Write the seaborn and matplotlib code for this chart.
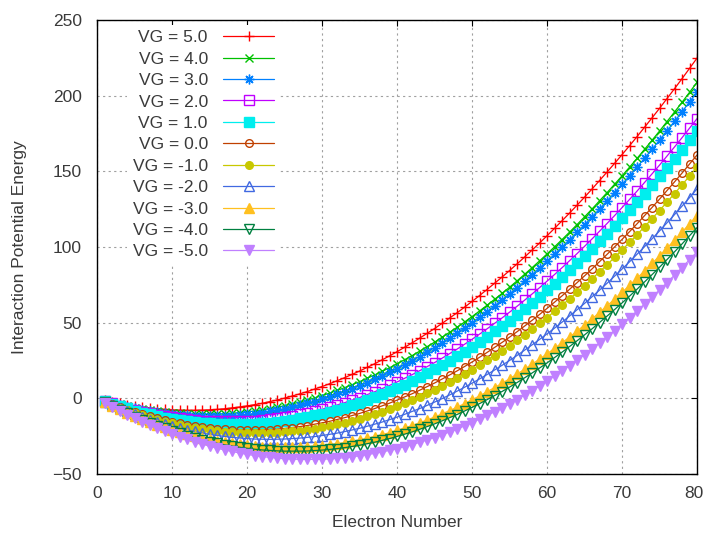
import matplotlib
matplotlib.use("Agg")
import matplotlib.pyplot as plt
import matplotlib.transforms as mtransforms
import pandas as pd
import seaborn as sns

# Electron number on the x axis (one point per electron)
electron_number = list(range(1, 81))

# Interaction potential energy for each gate voltage
vg_p5 = [
    -1.2, -2.3, -3.4, -4.3, -5.1, -5.8, -6.4, -6.9, -7.3, -7.6,
    -7.8, -7.9, -7.9, -7.8, -7.6, -7.3, -6.9, -6.3, -5.7, -5.0,
    -4.2, -3.3, -2.2, -1.1, 0.1, 1.5, 2.9, 4.4, 6.1, 7.8,
    9.6, 11.6, 13.6, 15.8, 18.0, 20.4, 22.8, 25.4, 28.0, 30.8,
    33.7, 36.6, 39.7, 42.9, 46.1, 49.5, 53.0, 56.5, 60.2, 64.0,
    67.9, 71.9, 76.0, 80.1, 84.4, 88.8, 93.3, 97.9, 102.6, 107.4,
    112.3, 117.3, 122.4, 127.6, 132.9, 138.3, 143.9, 149.5, 155.2, 161.0,
    166.9, 172.9, 179.1, 185.3, 191.6, 198.1, 204.6, 211.2, 218.0, 224.8]
vg_p4 = [
    -1.4, -2.7, -4.0, -5.1, -6.1, -7.0, -7.8, -8.5, -9.1, -9.6,
    -10.0, -10.3, -10.5, -10.6, -10.6, -10.5, -10.3, -9.9, -9.5, -9.0,
    -8.4, -7.7, -6.8, -5.9, -4.9, -3.7, -2.5, -1.2, 0.3, 1.8,
    3.4, 5.2, 7.0, 9.0, 11.0, 13.2, 15.4, 17.8, 20.2, 22.8,
    25.5, 28.2, 31.1, 34.1, 37.1, 40.3, 43.6, 46.9, 50.4, 54.0,
    57.7, 61.5, 65.4, 69.3, 73.4, 77.6, 81.9, 86.3, 90.8, 95.4,
    100.1, 104.9, 109.8, 114.8, 119.9, 125.1, 130.5, 135.9, 141.4, 147.0,
    152.7, 158.5, 164.5, 170.5, 176.6, 182.9, 189.2, 195.6, 202.2, 208.8]
vg_p3 = [
    -1.5, -2.9, -4.2, -5.4, -6.5, -7.5, -8.4, -9.1, -9.8, -10.4,
    -10.9, -11.3, -11.5, -11.7, -11.8, -11.7, -11.6, -11.4, -11.0, -10.6,
    -10.1, -9.4, -8.7, -7.8, -6.9, -5.8, -4.7, -3.4, -2.1, -0.6,
    1.0, 2.6, 4.4, 6.3, 8.2, 10.3, 12.5, 14.7, 17.1, 19.6,
    22.2, 24.9, 27.6, 30.5, 33.5, 36.6, 39.8, 43.1, 46.5, 50.0,
    53.6, 57.3, 61.1, 65.0, 69.0, 73.1, 77.3, 81.7, 86.1, 90.6,
    95.2, 99.9, 104.8, 109.7, 114.7, 119.9, 125.1, 130.4, 135.9, 141.4,
    147.0, 152.8, 158.6, 164.6, 170.6, 176.8, 183.0, 189.4, 195.8, 202.4]
vg_p2 = [
    -1.7, -3.3, -4.9, -6.3, -7.6, -8.8, -9.9, -10.9, -11.8, -12.6,
    -13.3, -13.9, -14.4, -14.8, -15.1, -15.3, -15.3, -15.3, -15.2, -15.0,
    -14.7, -14.3, -13.7, -13.1, -12.4, -11.5, -10.6, -9.6, -8.4, -7.2,
    -5.9, -4.4, -2.9, -1.2, 0.5, 2.4, 4.3, 6.4, 8.5, 10.8,
    13.2, 15.6, 18.2, 20.9, 23.6, 26.5, 29.5, 32.5, 35.7, 39.0,
    42.4, 45.9, 49.5, 53.1, 56.9, 60.8, 64.8, 68.9, 73.1, 77.4,
    81.8, 86.3, 90.9, 95.6, 100.4, 105.3, 110.4, 115.5, 120.7, 126.0,
    131.4, 136.9, 142.6, 148.3, 154.1, 160.1, 166.1, 172.2, 178.5, 184.8]
vg_p1 = [
    -1.8, -3.5, -5.2, -6.7, -8.1, -9.4, -10.6, -11.7, -12.7, -13.6,
    -14.4, -15.1, -15.7, -16.2, -16.6, -16.9, -17.1, -17.1, -17.1, -17.0,
    -16.8, -16.5, -16.0, -15.5, -14.9, -14.1, -13.3, -12.4, -11.3, -10.2,
    -9.0, -7.6, -6.2, -4.6, -3.0, -1.2, 0.6, 2.6, 4.6, 6.8,
    9.1, 11.4, 13.9, 16.5, 19.1, 21.9, 24.8, 27.7, 30.8, 34.0,
    37.3, 40.7, 44.2, 47.7, 51.4, 55.2, 59.1, 63.1, 67.2, 71.4,
    75.7, 80.1, 84.6, 89.2, 93.9, 98.7, 103.7, 108.7, 113.8, 119.0,
    124.3, 129.7, 135.3, 140.9, 146.6, 152.5, 158.4, 164.4, 170.6, 176.8]
vg_0 = [
    -2.0, -3.9, -5.8, -7.5, -9.1, -10.6, -12.0, -13.3, -14.5, -15.6,
    -16.6, -17.5, -18.3, -19.0, -19.6, -20.1, -20.5, -20.7, -20.9, -21.0,
    -21.0, -20.9, -20.6, -20.3, -19.9, -19.3, -18.7, -18.0, -17.1, -16.2,
    -15.2, -14.0, -12.8, -11.4, -10.0, -8.4, -6.8, -5.0, -3.2, -1.2,
    0.9, 3.0, 5.3, 7.7, 10.1, 12.7, 15.4, 18.1, 21.0, 24.0,
    27.1, 30.3, 33.6, 36.9, 40.4, 44.0, 47.7, 51.5, 55.4, 59.4,
    63.5, 67.7, 72.0, 76.4, 80.9, 85.5, 90.3, 95.1, 100.0, 105.0,
    110.1, 115.3, 120.7, 126.1, 131.6, 137.3, 143.0, 148.8, 154.8, 160.8]
vg_m1 = [
    -2.1, -4.1, -6.1, -7.9, -9.6, -11.2, -12.7, -14.1, -15.4, -16.6,
    -17.7, -18.7, -19.6, -20.4, -21.1, -21.7, -22.2, -22.5, -22.8, -23.0,
    -23.1, -23.1, -22.9, -22.7, -22.4, -21.9, -21.4, -20.8, -20.0, -19.2,
    -18.3, -17.2, -16.1, -14.8, -13.5, -12.0, -10.5, -8.8, -7.1, -5.2,
    -3.2, -1.2, 1.0, 3.3, 5.6, 8.1, 10.7, 13.3, 16.1, 19.0,
    22.0, 25.1, 28.3, 31.5, 34.9, 38.4, 42.0, 45.7, 49.5, 53.4,
    57.4, 61.5, 65.7, 70.0, 74.4, 78.9, 83.6, 88.3, 93.1, 98.0,
    103.0, 108.1, 113.4, 118.7, 124.1, 129.7, 135.3, 141.0, 146.9, 152.8]
vg_m2 = [
    -2.3, -4.5, -6.6, -8.6, -10.5, -12.3, -14.0, -15.5, -17.0, -18.4,
    -19.7, -20.9, -21.9, -22.9, -23.8, -24.5, -25.2, -25.8, -26.2, -26.6,
    -26.9, -27.0, -27.1, -27.0, -26.9, -26.6, -26.3, -25.8, -25.3, -24.6,
    -23.8, -23.0, -22.0, -20.9, -19.8, -18.5, -17.1, -15.7, -14.1, -12.4,
    -10.6, -8.7, -6.8, -4.7, -2.5, -0.2, 2.2, 4.7, 7.3, 10.0,
    12.8, 15.7, 18.7, 21.8, 25.0, 28.3, 31.8, 35.3, 38.9, 42.6,
    46.4, 50.3, 54.4, 58.5, 62.7, 67.1, 71.5, 76.0, 80.7, 85.4,
    90.2, 95.2, 100.2, 105.4, 110.6, 116.0, 121.4, 127.0, 132.6, 138.4]
vg_m3 = [
    -2.5, -4.9, -7.3, -9.5, -11.6, -13.6, -15.5, -17.3, -19.0, -20.6,
    -22.1, -23.5, -24.8, -26.0, -27.1, -28.1, -29.0, -29.7, -30.4, -31.0,
    -31.5, -31.9, -32.1, -32.3, -32.4, -32.3, -32.2, -32.0, -31.6, -31.2,
    -30.7, -30.0, -29.3, -28.4, -27.5, -26.4, -25.3, -24.0, -22.7, -21.2,
    -19.6, -18.0, -16.2, -14.3, -12.4, -10.3, -8.1, -5.9, -3.5, -1.0,
    1.6, 4.3, 7.1, 9.9, 12.9, 16.0, 19.2, 22.5, 25.9, 29.4,
    33.0, 36.7, 40.5, 44.4, 48.4, 52.5, 56.8, 61.1, 65.5, 70.0,
    74.6, 79.3, 84.2, 89.1, 94.1, 99.3, 104.5, 109.8, 115.3, 120.8]
vg_m4 = [
    -2.6, -5.1, -7.6, -9.9, -12.1, -14.2, -16.2, -18.1, -19.9, -21.6,
    -23.2, -24.7, -26.1, -27.4, -28.6, -29.7, -30.7, -31.5, -32.3, -33.0,
    -33.6, -34.1, -34.4, -34.7, -34.9, -34.9, -34.9, -34.8, -34.5, -34.2,
    -33.8, -33.2, -32.6, -31.8, -31.0, -30.0, -29.0, -27.8, -26.6, -25.2,
    -23.7, -22.2, -20.5, -18.7, -16.9, -14.9, -12.8, -10.7, -8.4, -6.0,
    -3.5, -0.9, 1.8, 4.5, 7.4, 10.4, 13.5, 16.7, 20.0, 23.4,
    26.9, 30.5, 34.2, 38.0, 41.9, 45.9, 50.1, 54.3, 58.6, 63.0,
    67.5, 72.1, 76.9, 81.7, 86.6, 91.7, 96.8, 102.0, 107.4, 112.8]
vg_m5 = [
    -2.8, -5.5, -8.2, -10.7, -13.1, -15.4, -17.6, -19.7, -21.7, -23.6,
    -25.4, -27.1, -28.7, -30.2, -31.6, -32.9, -34.1, -35.1, -36.1, -37.0,
    -37.8, -38.5, -39.0, -39.5, -39.9, -40.1, -40.3, -40.4, -40.3, -40.2,
    -40.0, -39.6, -39.2, -38.6, -38.0, -37.2, -36.4, -35.4, -34.4, -33.2,
    -31.9, -30.6, -29.1, -27.5, -25.9, -24.1, -22.2, -20.3, -18.2, -16.0,
    -13.7, -11.3, -8.9, -6.3, -3.6, -0.8, 2.1, 5.1, 8.2, 11.4,
    14.7, 18.1, 21.6, 25.2, 28.9, 32.7, 36.7, 40.7, 44.8, 49.0,
    53.3, 57.7, 62.3, 66.9, 71.6, 76.5, 81.4, 86.4, 91.6, 96.8]

gate_voltages = ["5.0", "4.0", "3.0", "2.0", "1.0", "0.0",
                 "-1.0", "-2.0", "-3.0", "-4.0", "-5.0"]
energy_series = [vg_p5, vg_p4, vg_p3, vg_p2, vg_p1, vg_0,
                 vg_m1, vg_m2, vg_m3, vg_m4, vg_m5]

# Classic gnuplot line colours and point types
line_colors = ["#ff0000", "#00c000", "#0080ff", "#c000ff", "#00eeee",
               "#c04000", "#c8c800", "#4169e1", "#ffc020", "#008040",
               "#c080ff"]
point_markers = ["+", "x", (8, 2, 0), "s", "s", "o", "o", "^", "^", "v", "v"]
point_filled = [True, True, True, False, True, False, True, False, True,
                False, True]
point_sizes = [7, 6, 7, 6.5, 6.5, 5.5, 5.5, 7, 7, 7, 7]

sns.set_style("white")
plt.rcParams["font.family"] = ["Liberation Sans", "DejaVu Sans"]
text_color = "#3a3a3a"
tick_font = 12.5
label_font = 12.5

frames = []
for vg, values in zip(gate_voltages, energy_series):
    frames.append(pd.DataFrame({"electrons": electron_number,
                                "energy": values,
                                "series": f"VG = {vg}"}))
data = pd.concat(frames, ignore_index=True)

fig = plt.figure(figsize=(7.05, 5.36), dpi=100)
ax = fig.add_axes([97 / 705, 62 / 536, 600 / 705, 454 / 536])

for vg, color, marker, filled, size in zip(gate_voltages, line_colors,
                                           point_markers, point_filled,
                                           point_sizes):
    label = f"VG = {vg}"
    subset = data[data["series"] == label]
    sns.lineplot(data=subset, x="electrons", y="energy", ax=ax,
                 color=color, linewidth=0.9, marker=marker,
                 markersize=size, markeredgewidth=1.0,
                 markeredgecolor=color,
                 markerfacecolor=color if filled else "none",
                 label=label, estimator=None, sort=False)

ax.set_xlim(0, 80)
ax.set_ylim(-50, 250)
ax.set_xticks(range(0, 81, 10))
ax.set_yticks(range(-50, 251, 50))

ax.set_axisbelow(True)
ax.grid(True, color="#a0a0a0", linestyle=(0, (2, 3)), linewidth=0.8)
for spine in ax.spines.values():
    spine.set_visible(True)
    spine.set_color("black")
    spine.set_linewidth(1.0)
    spine.set_zorder(6)

ax.tick_params(axis="both", direction="in", top=True, right=True,
               length=4, width=0.8, color="black", labelcolor=text_color,
               labelsize=tick_font)
ax.tick_params(axis="x", pad=8.5)
ax.tick_params(axis="y", pad=11)

# keep the last x tick label inside the canvas
last_label = ax.xaxis.get_major_ticks()[-1].label1
last_label.set_transform(last_label.get_transform() +
                         mtransforms.ScaledTranslation(-3 / 100, 0,
                                                       fig.dpi_scale_trans))

ax.set_xlabel("Electron Number", fontsize=label_font, color=text_color)
ax.set_ylabel("Interaction Potential Energy", fontsize=label_font,
              color=text_color)
ax.xaxis.set_label_coords(0.5, -0.0914)
ax.yaxis.set_label_coords(-0.117, 0.5)

handles, labels = ax.get_legend_handles_labels()
legend = ax.legend(handles, labels, loc="upper right",
                   bbox_to_anchor=(279 / 705, 1 - 25 / 536),
                   bbox_transform=fig.transFigure, markerfirst=False,
                   frameon=True, facecolor="white", edgecolor="none",
                   framealpha=1, fancybox=False, fontsize=tick_font,
                   labelspacing=0.36, handlelength=2.9, handletextpad=0.9,
                   borderpad=0.3, borderaxespad=0)
for text in legend.get_texts():
    text.set_color(text_color)

fig.savefig("out.png", dpi=100)
